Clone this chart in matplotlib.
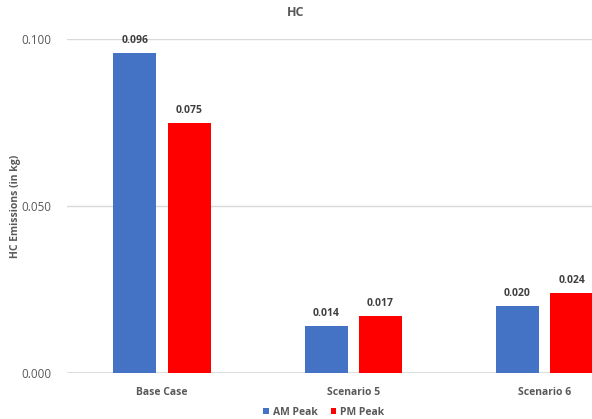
import numpy as np
import matplotlib
matplotlib.use("Agg")
import matplotlib.pyplot as plt

# data
categories = ["Base Case", "Scenario 5", "Scenario 6"]
am_peak = [0.096, 0.014, 0.020]
pm_peak = [0.075, 0.017, 0.024]
yticks = [0.000, 0.050, 0.100]

plt.rcParams['font.family'] = ['Open Sans', 'DejaVu Sans']

fig = plt.figure(figsize=(5.92, 4.19), dpi=100)
# the plot area runs past the right edge of the picture (cropped original)
ax = fig.add_axes([66.5/592, 46/419, 573.5/592, 333.5/419])

x = np.arange(len(categories))
w = 0.225
off = 0.142
b1 = ax.bar(x - off, am_peak, w, color='#4472C4', label='AM Peak', zorder=3)
b2 = ax.bar(x + off, pm_peak, w, color='#FF0000', label='PM Peak', zorder=3)

for bars, vals in ((b1, am_peak), (b2, pm_peak)):
    for r, v in zip(bars, vals):
        ax.annotate(f"{v:.3f}", (r.get_x() + r.get_width()/2, v),
                    xytext=(0, 5), textcoords='offset points',
                    ha='center', va='bottom', fontsize=7.5,
                    fontweight='bold', color='#404040')

ax.set_xlim(-0.5, len(categories) - 0.5)
ax.set_ylim(0, 0.1)
ax.set_yticks(yticks)
ax.set_yticklabels([f"{t:.3f}" for t in yticks])
ax.set_xticks(x)
ax.set_xticklabels(categories, fontweight='bold')
ax.tick_params(axis='both', length=0, colors='#595959')
ax.tick_params(axis='x', pad=10, labelsize=7.5)
ax.tick_params(axis='y', pad=11, labelsize=8.4)
ax.yaxis.grid(True, color='#D9D9D9', linewidth=1, zorder=0)
for s in ax.spines.values():
    s.set_visible(False)
ax.axhline(0, color='#D9D9D9', linewidth=1.2, zorder=2)

ax.set_ylabel("HC Emissions (in kg)", fontsize=7.5, fontweight='bold',
              color='#595959')
ax.yaxis.set_label_coords(-45/573.5, 0.5)

fig.text(0.5, 1 - 13/419, "HC", ha='center', va='center', fontsize=9,
         fontweight='bold', color='#595959')

fig.legend(handles=[b1, b2], loc='center', bbox_to_anchor=(324/592, 1 - 412/419),
           ncol=2, frameon=False, handlelength=0.55,
           handleheight=0.55, handletextpad=0.4, columnspacing=1.2,
           labelcolor='#595959', prop={'weight': 'bold', 'size': 7.5})

fig.savefig("out.png", dpi=100)
